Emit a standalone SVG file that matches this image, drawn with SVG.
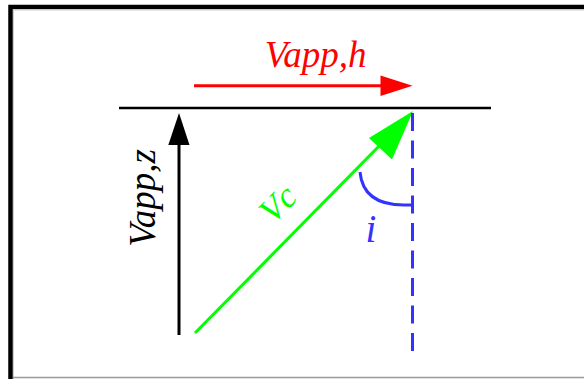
<svg xmlns="http://www.w3.org/2000/svg" width="584" height="379" viewBox="0 0 584 379">
<defs>
<style>
.lbl{font-family:"Liberation Serif","Times New Roman",serif;font-style:italic;font-size:37px}
.frame{fill:none;stroke:#000;stroke-width:4.5}
</style>
</defs>
<rect width="584" height="379" fill="#fff"/>
<g id="frame">
<path class="frame" d="M10.5,379 V7 H584"/>
<path d="M13.5,379 V10 H584" fill="none" stroke="#cfcfcf" stroke-width="1"/>
<line x1="13" y1="377.5" x2="584" y2="377.5" stroke="#999" stroke-width="1.6"/>
</g>
<g id="surface">
<line x1="119" y1="108" x2="491" y2="108" stroke="#000" stroke-width="2.6"/>
</g>
<g id="connectors">
<g id="vapp-z-arrow">
<line x1="179" y1="335" x2="179" y2="140" stroke="#000" stroke-width="3"/>
<polygon points="179,113 168.3,145 189.5,145" fill="#000"/>
</g>
<g id="vapp-h-arrow">
<line x1="194" y1="85.7" x2="384" y2="85.7" stroke="#ff0000" stroke-width="3"/>
<polygon points="412.5,85.7 380.5,75.5 380.5,96" fill="#ff0000"/>
</g>
<g id="vc-arrow">
<line x1="195" y1="333" x2="385" y2="140" stroke="#00ff00" stroke-width="3"/>
<polygon points="413,111 369,138 392,159.5" fill="#00ff00"/>
</g>
<g id="normal">
<line x1="412.5" y1="113" x2="412.5" y2="352" stroke="#3333ff" stroke-width="3" stroke-dasharray="18 9.5"/>
<path d="M360,172 Q363,205 404,205 L412.5,205" fill="none" stroke="#3333ff" stroke-width="3"/>
</g>
</g>
<g id="labels">
<text class="lbl" x="315.5" y="67" text-anchor="middle" fill="#ff0000">Vapp,h</text>
<text class="lbl" transform="translate(155,198) rotate(-90)" text-anchor="middle" fill="#000">Vapp,z</text>
<text class="lbl" transform="translate(286,212) rotate(-45)" text-anchor="middle" fill="#00ff00" style="font-size:35px">Vc</text>
<text class="lbl" x="371" y="242" text-anchor="middle" fill="#3333ff" style="font-size:39px">i</text>
</g>
</svg>
